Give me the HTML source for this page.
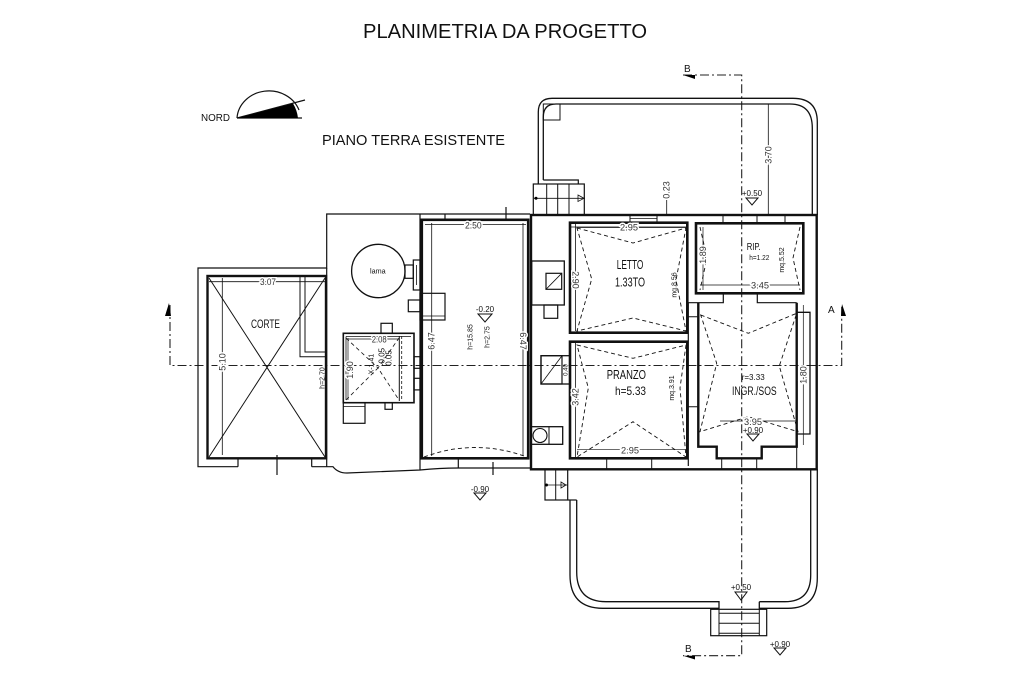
<!DOCTYPE html>
<html><head><meta charset="utf-8"><style>
html,body{margin:0;padding:0;background:#fff;}
svg{display:block;}
.t{font-family:"Liberation Sans",sans-serif;fill:#111;}
.d{font-family:"Liberation Sans",sans-serif;fill:#333;font-size:9px;stroke:#fff;stroke-width:3px;paint-order:stroke;}
</style></head><body>
<svg width="1024" height="682" viewBox="0 0 1024 682" xmlns="http://www.w3.org/2000/svg">
<rect width="1024" height="682" fill="#fff"/>
<text class="t" x="363" y="38" font-size="20.5" textLength="284" lengthAdjust="spacingAndGlyphs">PLANIMETRIA DA PROGETTO</text>
<text class="t" x="322" y="145" font-size="15" textLength="183" lengthAdjust="spacingAndGlyphs" fill="#222">PIANO TERRA ESISTENTE</text>

<!-- NORD -->
<text class="t" x="201" y="121" font-size="10" textLength="29" lengthAdjust="spacingAndGlyphs">NORD</text>
<g fill="none" stroke="#111" stroke-width="1.2">
<path d="M237,118 A32,29 0 0 1 299,110"/>
<line x1="237" y1="118" x2="302" y2="118"/>
<line x1="237" y1="118" x2="305" y2="100"/>
</g>
<path d="M237,118 L293,103.5 Q297,110 298,118 Z" fill="#000"/>

<!-- Section A line -->
<g fill="none" stroke="#222" stroke-width="1.1" stroke-dasharray="9,3,2,3">
<path d="M170,305 V365.5 H841.7 V305"/>
<!-- Section B line -->
<path d="M683,75 H741.7 V655.7 H683"/>
</g>
<polygon points="165,316 169,303 171,316" fill="#000"/>
<polygon points="841,316 842,304 846,316" fill="#000"/>
<text class="t" x="828" y="313" font-size="10">A</text>
<polygon points="683,75 695,75 695,79" fill="#000"/>
<polygon points="683,655.7 695,655.7 695,659.5" fill="#000"/>
<text class="t" x="684" y="72" font-size="10">B</text>
<text class="t" x="685" y="652" font-size="10">B</text>

<g fill="none" stroke="#111" stroke-width="1.2">
<!-- ===== LEFT BUILDING (CORTE) ===== -->
<path d="M238,466.7 H198 V268 H326.7 V214 H530"/>
<line x1="326.7" y1="268" x2="326.7" y2="466.7"/>
<path d="M238,458 V466.7 M311.7,458 V466.7"/>
<path d="M311.7,466.7 H333 Q338,473 347,473 L420,470 Q440,468 458.3,468 H530.7"/>
<line x1="458.3" y1="458.3" x2="458.3" y2="468"/>
<line x1="277" y1="455" x2="277" y2="475"/>
<rect x="207.5" y="276" width="118.5" height="182.3" stroke-width="2.4"/>
<path d="M209,278 L325,457 M325,278 L209,457" stroke-width="1"/>
<path d="M300,277 V356.7 H326 M305,277 V352 H326" stroke-width="1"/>
<line x1="209" y1="281.7" x2="325" y2="281.7" stroke-width="0.8"/>
<line x1="222.3" y1="278" x2="222.3" y2="455" stroke-width="0.8"/>

<!-- tank -->
<circle cx="378.3" cy="271" r="26.7" stroke-width="1.3"/>
<rect x="405" y="265" width="8.3" height="13.3"/>
<rect x="413.3" y="260" width="6.7" height="30"/>
<line x1="416.5" y1="265" x2="416.5" y2="285" stroke-width="0.8"/>
<rect x="408.3" y="300" width="11.7" height="11.7"/>
<rect x="420" y="293.3" width="25" height="26.7"/>
<line x1="423" y1="316" x2="445" y2="316" stroke-width="0.8"/>

<!-- small building -->
<rect x="343.3" y="333.3" width="70.7" height="69.4" stroke-width="1.6"/>
<path d="M346,336.5 H411 M346,336.5 V400" stroke-width="0.8"/>
<line x1="399.3" y1="336" x2="399.3" y2="401" stroke-width="1"/>
<line x1="401.7" y1="336" x2="401.7" y2="401" stroke-width="0.8" stroke-dasharray="3,2"/>
<path d="M346,338 L378,368 L399,338 M346,400 L378,368 L399,400" stroke-width="0.8" stroke-dasharray="4,3"/>
<line x1="346" y1="339" x2="399" y2="339" stroke-width="0.7"/>
<line x1="348" y1="338" x2="348" y2="400" stroke-width="0.7"/>
<rect x="381" y="323.3" width="11.3" height="10"/>
<rect x="343.3" y="402.7" width="21.7" height="20.6"/>
<line x1="343.3" y1="406.5" x2="365" y2="406.5" stroke-width="0.8"/>
<rect x="385" y="402.7" width="7.3" height="6.6"/>
<rect x="414" y="356.7" width="6" height="11.6"/>
<rect x="414" y="378.3" width="6" height="11.6"/>

<!-- ===== MIDDLE ROOM ===== -->
<line x1="420" y1="214" x2="420" y2="470"/>
<rect x="421.8" y="219.8" width="106.4" height="238.5" stroke-width="2.6"/>
<line x1="506" y1="207" x2="506" y2="220"/>
<line x1="445" y1="214" x2="445" y2="220"/>
<line x1="493" y1="462" x2="493" y2="475"/>
<line x1="425" y1="224.5" x2="526" y2="224.5" stroke-width="0.8"/>
<line x1="431.7" y1="223" x2="431.7" y2="456" stroke-width="0.8"/>
<line x1="523" y1="223" x2="523" y2="456" stroke-width="0.8"/>
<path d="M424,457 Q475,438 527,457" stroke-width="0.9" stroke-dasharray="4,3"/>

<!-- ===== CENTRAL BUILDING ===== -->
<rect x="531" y="215" width="285.7" height="254.3" stroke-width="2.4"/>
<path d="M630,215 V222 M657,215 V222 M723,215 V223 M757,215 V223 M785,215 V223" stroke-width="1"/>
<line x1="630" y1="218.5" x2="657" y2="218.5" stroke-width="0.8"/>
<!-- LETTO -->
<rect x="570" y="222.7" width="117.3" height="110" stroke-width="2.6"/>
<path d="M575.5,224 V331 M571,227 H686" stroke-width="0.8"/>
<path d="M577,228 L633,243 L686,228 L676,280 L686,331 L633,318 L577,331 L591.7,279 Z" stroke-width="0.9" stroke-dasharray="4,3"/>
<line x1="577" y1="227.5" x2="686" y2="227.5" stroke-width="0.7"/>
<!-- PRANZO -->
<rect x="570" y="341.7" width="117.3" height="116.6" stroke-width="2.6"/>
<path d="M575.5,343 V457" stroke-width="0.8"/>
<path d="M577,345 L633,358.3 L686,345 L680,388 L686,457 L633,421.7 L577,457 L588.3,388 Z" stroke-width="0.9" stroke-dasharray="4,3"/>
<line x1="577" y1="449.7" x2="686" y2="449.7" stroke-width="0.7"/>
<path d="M606.7,458.3 V469.3 M651.7,458.3 V469.3 M721.7,458.3 V469.3 M756.7,458.3 V469.3" stroke-width="1"/>
<!-- RIP -->
<rect x="696" y="223.3" width="107.3" height="70" stroke-width="2.6"/>
<path d="M700,227 L707,258 L700,290 M800,227 L793,258 L800,290" stroke-width="0.9" stroke-dasharray="4,3"/>
<line x1="703" y1="227" x2="703" y2="290" stroke-width="0.7"/>
<line x1="700" y1="285" x2="800" y2="285" stroke-width="0.7"/>
<path d="M688.3,302.7 H723.3 V293.3 M757.3,293.3 V302.7 H796.7" stroke-width="1.2"/>
<!-- INGR -->
<path d="M698.3,302.7 V446.7 H716.7 V458.3 H761.7 V446.7 H796.7 V302.7" stroke-width="2.4"/>
<path d="M796.7,312.3 H810 V434 H796.7" stroke-width="1.3"/>
<path d="M796.7,446.7 V469" stroke-width="1"/>
<path d="M700.7,315 L748.3,333.3 L796.7,313.3 L779.3,366 L798,431.7 L748.3,416.7 L700,431.7 L716.7,363.3 Z" stroke-width="0.9" stroke-dasharray="4,3"/>
<line x1="803.3" y1="305" x2="803.3" y2="445" stroke-width="0.7"/>
<line x1="720" y1="421" x2="796" y2="421" stroke-width="0.7"/>
<!-- wall between -->
<line x1="688.3" y1="302.7" x2="688.3" y2="466" stroke-width="1.2"/>
<path d="M687.3,316.7 H698.3 M687.3,406.7 H698.3" stroke-width="1"/>
<!-- chimney elements -->
<rect x="531.7" y="261" width="32.6" height="44" stroke-width="1.3"/>
<rect x="546" y="273.3" width="15.7" height="16" stroke-width="1.2"/>
<line x1="546" y1="289.3" x2="561.7" y2="273.3" stroke-width="0.8"/>
<rect x="544" y="305" width="13.7" height="13.3" stroke-width="1.2"/>
<rect x="541" y="355.7" width="29" height="28.3" stroke-width="1.3"/>
<rect x="541" y="355.7" width="21" height="28.3" stroke-width="1.2"/>
<line x1="541" y1="384" x2="562" y2="355.7" stroke-width="0.8"/>
<rect x="531" y="426.7" width="31.7" height="17.6" stroke-width="1.3"/>
<line x1="549" y1="426.7" x2="549" y2="444.3" stroke-width="1"/>
<circle cx="540" cy="435.5" r="7" stroke-width="1.1"/>

<!-- ===== TOP TERRACE ===== -->
<path d="M538.3,184 V112 Q538.3,98.3 552,98.3 H793 Q817.3,98.3 817.3,122 V215" stroke-width="1.3"/>
<path d="M543.3,180 V117 Q543.3,104 556,104 H790 Q812.3,104 812.3,128 V215" stroke-width="1.3"/>
<path d="M543.3,180 H578.3 V184" stroke-width="1.2"/>
<rect x="543.3" y="104" width="16.7" height="16" stroke-width="1"/>
<rect x="533.3" y="184" width="51" height="31" stroke-width="1.2"/>
<path d="M546.7,184 V215 M557.7,184 V215 M569,184 V215" stroke-width="1"/>
<line x1="534" y1="198.3" x2="585" y2="198.3" stroke-width="0.8"/>
<polygon points="578,195 584,198.3 578,201.5" stroke-width="0.8"/>
<line x1="768.3" y1="104" x2="768.3" y2="215" stroke-width="0.8"/>
<line x1="666.7" y1="200" x2="666.7" y2="214" stroke-width="0.8"/>

<!-- ===== BOTTOM TERRACE ===== -->
<rect x="545" y="469.3" width="22.7" height="30.7" stroke-width="1.2"/>
<line x1="555.7" y1="469.3" x2="555.7" y2="500" stroke-width="1"/>
<line x1="545" y1="485" x2="568" y2="485" stroke-width="0.8"/>
<polygon points="561,482 566,485 561,488" stroke-width="0.8"/>
<path d="M567.7,500 H576.7" stroke-width="1.2"/>
<path d="M570,500 V575 Q570,608.3 603,608.3 H719 V601.7 H606 Q576.7,601.7 576.7,572 V500" stroke-width="1.3"/>
<path d="M759.3,601.7 V608.3 H788 Q817.3,608.3 817.3,578 V469.3 M810.7,469.3 V575 Q810.7,601.7 785,601.7 H759.3" stroke-width="1.3"/>
<rect x="710.7" y="609.3" width="56" height="26.4" stroke-width="1.2"/>
<path d="M719,609.3 V635.7 M759.3,609.3 V635.7 M719,613.3 H759.3 M719,623.3 H759.3 M719,633.3 H759.3" stroke-width="1"/>

<!-- level markers -->
<path d="M478,314 H492 L485,322 Z M746,198 H758 L752,205 Z M747,434 H759 L753,441 Z M735,592 H747 L741,600 Z M774,648 H786 L780,655 Z M474,493 H486 L480,500 Z" stroke-width="1"/>
</g>
<circle cx="536" cy="198.3" r="1.5" fill="#000"/>
<circle cx="546.5" cy="485" r="1.5" fill="#000"/>

<!-- Texts -->
<text class="t" x="251" y="328" font-size="12" textLength="29" lengthAdjust="spacingAndGlyphs">CORTE</text>
<text class="t" x="370" y="273.3" font-size="7" textLength="15.7" lengthAdjust="spacingAndGlyphs">lama</text>
<text class="t" x="616.7" y="269" font-size="12.5" textLength="26.7" lengthAdjust="spacingAndGlyphs">LETTO</text>
<text class="t" x="615" y="286.7" font-size="12.5" textLength="30" lengthAdjust="spacingAndGlyphs">1.33TO</text>
<text class="t" x="606.7" y="379" font-size="12.5" textLength="39.3" lengthAdjust="spacingAndGlyphs">PRANZO</text>
<text class="t" x="615" y="395" font-size="12" textLength="31" lengthAdjust="spacingAndGlyphs">h=5.33</text>
<text class="t" x="746.7" y="250" font-size="10" textLength="14" lengthAdjust="spacingAndGlyphs">RIP.</text>
<text class="t" x="749.3" y="260" font-size="7" textLength="20" lengthAdjust="spacingAndGlyphs">h=1.22</text>
<text class="t" x="741.7" y="380" font-size="8.5" textLength="23" lengthAdjust="spacingAndGlyphs">r=3.33</text>
<text class="t" x="732" y="395" font-size="11.5" textLength="44.7" lengthAdjust="spacingAndGlyphs">INGR./SOS</text>

<text class="d" x="260" y="285" textLength="16" lengthAdjust="spacingAndGlyphs">3.07</text>
<text class="d" x="465" y="228.3" textLength="16.7" lengthAdjust="spacingAndGlyphs">2.50</text>
<text class="d" x="620" y="230.7" textLength="18" lengthAdjust="spacingAndGlyphs">2.95</text>
<text class="d" x="621" y="453.3" textLength="18" lengthAdjust="spacingAndGlyphs">2.95</text>
<text class="d" x="751" y="288.3" textLength="18" lengthAdjust="spacingAndGlyphs">3.45</text>
<text class="d" x="744" y="425" textLength="18" lengthAdjust="spacingAndGlyphs">3.95</text>
<text class="d" x="371.7" y="342.7" textLength="15" lengthAdjust="spacingAndGlyphs">2.08</text>

<text class="d" x="222.3" y="362" text-anchor="middle" dy="3" transform="rotate(-90 222.3 362)">5.10</text>
<text class="d" x="431.7" y="341" text-anchor="middle" dy="3" transform="rotate(-90 431.7 341)">6.47</text>
<text class="d" x="523" y="341" text-anchor="middle" dy="3" transform="rotate(90 523 341)">6.47</text>
<text class="d" x="575.5" y="280" text-anchor="middle" dy="3" transform="rotate(90 575.5 280)">2.90</text>
<text class="d" x="575.5" y="397" text-anchor="middle" dy="3" transform="rotate(-90 575.5 397)">3.42</text>
<text class="d" x="703" y="255" text-anchor="middle" dy="3" transform="rotate(-90 703 255)">1.89</text>
<text class="d" x="803.3" y="375" text-anchor="middle" dy="3" transform="rotate(-90 803.3 375)">1.80</text>
<text class="d" x="768.3" y="155" text-anchor="middle" dy="3" transform="rotate(-90 768.3 155)">3.70</text>
<text class="d" x="666.7" y="190" text-anchor="middle" dy="3" transform="rotate(-90 666.7 190)">0.23</text>
<text class="d" x="350" y="370" text-anchor="middle" dy="3" font-size="8" transform="rotate(-90 350 370)">1.90</text>

<g class="t" font-size="7">
<text x="674" y="285" text-anchor="middle" dy="2.5" transform="rotate(-90 674 285)">mq.8.56</text>
<text x="671.7" y="388" text-anchor="middle" dy="2.5" transform="rotate(-90 671.7 388)">mq.3.91</text>
<text x="781.7" y="260" text-anchor="middle" dy="2.5" transform="rotate(-90 781.7 260)">mq.5.52</text>
<text x="470" y="337" text-anchor="middle" dy="2.5" transform="rotate(-90 470 337)">h=15.85</text>
<text x="487" y="337" text-anchor="middle" dy="2.5" transform="rotate(-90 487 337)">h=2.75</text>
<text x="322" y="378" text-anchor="middle" dy="2.5" transform="rotate(-90 322 378)">h=2.70</text>
<text x="371" y="364" text-anchor="middle" dy="2.5" transform="rotate(-90 371 364)">X-1.41</text>
<text x="382" y="357" text-anchor="middle" dy="2.5" font-size="8" transform="rotate(-90 382 357)">-0.05</text>
<text x="389" y="358" text-anchor="middle" dy="2.5" font-size="8" transform="rotate(-90 389 358)">0.05</text>
<text x="565" y="370" text-anchor="middle" dy="2.5" font-size="6" transform="rotate(-90 565 370)">0.40</text>
</g>
<g class="t" font-size="8" text-anchor="middle">
<text x="485" y="312">-0.20</text>
<text x="752" y="196">+0.50</text>
<text x="753" y="433">+0.90</text>
<text x="741" y="590">+0.50</text>
<text x="780" y="647">+0.90</text>
<text x="480" y="492">-0.90</text>
</g>
</svg>
</body></html>
